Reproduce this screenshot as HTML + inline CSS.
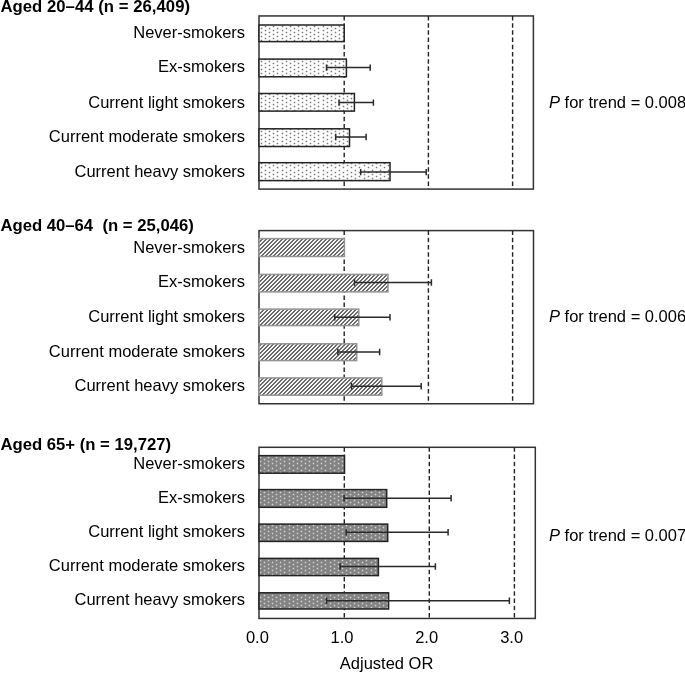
<!DOCTYPE html>
<html><head><meta charset="utf-8"><style>
html,body{margin:0;padding:0;background:#fff;}
svg{display:block;filter:grayscale(1);}
text{font-family:"Liberation Sans",sans-serif;font-size:16.5px;fill:#000;}
.t{font-weight:bold;font-size:16.7px;}
</style></head><body>
<svg width="685" height="673" viewBox="0 0 685 673">
<rect width="685" height="673" fill="#fff"/>
<defs>
<pattern id="hatch" patternUnits="userSpaceOnUse" x="0" y="0" width="4" height="4">
<rect width="4" height="4" fill="#f4f4f4"/>
<path d="M0 0h2v1h-2zM3 1h1v1h-1zM0 1h1v1h-1zM2 2h2v1h-2zM1 3h2v1h-2z" fill="#6a6a6a"/>
</pattern>
</defs>
<rect x="259.0" y="15.95" width="274.40" height="173.15" fill="#fff" stroke="#333" stroke-width="1.5"/>
<line x1="344.2" y1="15.95" x2="344.2" y2="189.1" stroke="#222" stroke-width="1.4" stroke-dasharray="4.5 2.7"/>
<line x1="428.4" y1="15.95" x2="428.4" y2="189.1" stroke="#222" stroke-width="1.4" stroke-dasharray="4.5 2.7"/>
<line x1="512.6" y1="15.95" x2="512.6" y2="189.1" stroke="#222" stroke-width="1.4" stroke-dasharray="4.5 2.7"/>
<rect x="259.0" y="25.00" width="85.20" height="16.60" fill="#fff"/>
<path d="M260.75 27.75h1.5v1.5h-1.5zM260.75 31.75h1.5v1.5h-1.5zM260.75 35.75h1.5v1.5h-1.5zM260.75 39.75h1.5v1.5h-1.5zM264.75 25.75h1.5v1.5h-1.5zM264.75 29.75h1.5v1.5h-1.5zM264.75 33.75h1.5v1.5h-1.5zM264.75 37.75h1.5v1.5h-1.5zM268.75 27.75h1.5v1.5h-1.5zM268.75 31.75h1.5v1.5h-1.5zM268.75 35.75h1.5v1.5h-1.5zM268.75 39.75h1.5v1.5h-1.5zM272.75 25.75h1.5v1.5h-1.5zM272.75 29.75h1.5v1.5h-1.5zM272.75 33.75h1.5v1.5h-1.5zM272.75 37.75h1.5v1.5h-1.5zM276.75 27.75h1.5v1.5h-1.5zM276.75 31.75h1.5v1.5h-1.5zM276.75 35.75h1.5v1.5h-1.5zM276.75 39.75h1.5v1.5h-1.5zM281.75 25.75h1.5v1.5h-1.5zM281.75 29.75h1.5v1.5h-1.5zM281.75 33.75h1.5v1.5h-1.5zM281.75 37.75h1.5v1.5h-1.5zM285.75 27.75h1.5v1.5h-1.5zM285.75 31.75h1.5v1.5h-1.5zM285.75 35.75h1.5v1.5h-1.5zM285.75 39.75h1.5v1.5h-1.5zM289.75 25.75h1.5v1.5h-1.5zM289.75 29.75h1.5v1.5h-1.5zM289.75 33.75h1.5v1.5h-1.5zM289.75 37.75h1.5v1.5h-1.5zM293.75 27.75h1.5v1.5h-1.5zM293.75 31.75h1.5v1.5h-1.5zM293.75 35.75h1.5v1.5h-1.5zM293.75 39.75h1.5v1.5h-1.5zM297.75 25.75h1.5v1.5h-1.5zM297.75 29.75h1.5v1.5h-1.5zM297.75 33.75h1.5v1.5h-1.5zM297.75 37.75h1.5v1.5h-1.5zM301.75 27.75h1.5v1.5h-1.5zM301.75 31.75h1.5v1.5h-1.5zM301.75 35.75h1.5v1.5h-1.5zM301.75 39.75h1.5v1.5h-1.5zM305.75 25.75h1.5v1.5h-1.5zM305.75 29.75h1.5v1.5h-1.5zM305.75 33.75h1.5v1.5h-1.5zM305.75 37.75h1.5v1.5h-1.5zM309.75 27.75h1.5v1.5h-1.5zM309.75 31.75h1.5v1.5h-1.5zM309.75 35.75h1.5v1.5h-1.5zM309.75 39.75h1.5v1.5h-1.5zM313.75 25.75h1.5v1.5h-1.5zM313.75 29.75h1.5v1.5h-1.5zM313.75 33.75h1.5v1.5h-1.5zM313.75 37.75h1.5v1.5h-1.5zM317.75 27.75h1.5v1.5h-1.5zM317.75 31.75h1.5v1.5h-1.5zM317.75 35.75h1.5v1.5h-1.5zM317.75 39.75h1.5v1.5h-1.5zM322.75 25.75h1.5v1.5h-1.5zM322.75 29.75h1.5v1.5h-1.5zM322.75 33.75h1.5v1.5h-1.5zM322.75 37.75h1.5v1.5h-1.5zM326.75 27.75h1.5v1.5h-1.5zM326.75 31.75h1.5v1.5h-1.5zM326.75 35.75h1.5v1.5h-1.5zM326.75 39.75h1.5v1.5h-1.5zM330.75 25.75h1.5v1.5h-1.5zM330.75 29.75h1.5v1.5h-1.5zM330.75 33.75h1.5v1.5h-1.5zM330.75 37.75h1.5v1.5h-1.5zM334.75 27.75h1.5v1.5h-1.5zM334.75 31.75h1.5v1.5h-1.5zM334.75 35.75h1.5v1.5h-1.5zM334.75 39.75h1.5v1.5h-1.5zM338.75 25.75h1.5v1.5h-1.5zM338.75 29.75h1.5v1.5h-1.5zM338.75 33.75h1.5v1.5h-1.5zM338.75 37.75h1.5v1.5h-1.5zM342.75 27.75h1.5v1.5h-1.5zM342.75 31.75h1.5v1.5h-1.5zM342.75 35.75h1.5v1.5h-1.5zM342.75 39.75h1.5v1.5h-1.5z" fill="#7a7a7a"/>
<rect x="259.0" y="25.00" width="85.20" height="16.60" fill="none" stroke="#222" stroke-width="1.5"/>
<rect x="259.0" y="59.10" width="87.40" height="17.70" fill="#fff"/>
<path d="M260.75 60.75h1.5v1.5h-1.5zM260.75 64.75h1.5v1.5h-1.5zM260.75 68.75h1.5v1.5h-1.5zM260.75 72.75h1.5v1.5h-1.5zM264.75 58.75h1.5v1.5h-1.5zM264.75 62.75h1.5v1.5h-1.5zM264.75 66.75h1.5v1.5h-1.5zM264.75 70.75h1.5v1.5h-1.5zM264.75 74.75h1.5v1.5h-1.5zM268.75 60.75h1.5v1.5h-1.5zM268.75 64.75h1.5v1.5h-1.5zM268.75 68.75h1.5v1.5h-1.5zM268.75 72.75h1.5v1.5h-1.5zM272.75 58.75h1.5v1.5h-1.5zM272.75 62.75h1.5v1.5h-1.5zM272.75 66.75h1.5v1.5h-1.5zM272.75 70.75h1.5v1.5h-1.5zM272.75 74.75h1.5v1.5h-1.5zM276.75 60.75h1.5v1.5h-1.5zM276.75 64.75h1.5v1.5h-1.5zM276.75 68.75h1.5v1.5h-1.5zM276.75 72.75h1.5v1.5h-1.5zM281.75 58.75h1.5v1.5h-1.5zM281.75 62.75h1.5v1.5h-1.5zM281.75 66.75h1.5v1.5h-1.5zM281.75 70.75h1.5v1.5h-1.5zM281.75 74.75h1.5v1.5h-1.5zM285.75 60.75h1.5v1.5h-1.5zM285.75 64.75h1.5v1.5h-1.5zM285.75 68.75h1.5v1.5h-1.5zM285.75 72.75h1.5v1.5h-1.5zM289.75 58.75h1.5v1.5h-1.5zM289.75 62.75h1.5v1.5h-1.5zM289.75 66.75h1.5v1.5h-1.5zM289.75 70.75h1.5v1.5h-1.5zM289.75 74.75h1.5v1.5h-1.5zM293.75 60.75h1.5v1.5h-1.5zM293.75 64.75h1.5v1.5h-1.5zM293.75 68.75h1.5v1.5h-1.5zM293.75 72.75h1.5v1.5h-1.5zM297.75 58.75h1.5v1.5h-1.5zM297.75 62.75h1.5v1.5h-1.5zM297.75 66.75h1.5v1.5h-1.5zM297.75 70.75h1.5v1.5h-1.5zM297.75 74.75h1.5v1.5h-1.5zM301.75 60.75h1.5v1.5h-1.5zM301.75 64.75h1.5v1.5h-1.5zM301.75 68.75h1.5v1.5h-1.5zM301.75 72.75h1.5v1.5h-1.5zM305.75 58.75h1.5v1.5h-1.5zM305.75 62.75h1.5v1.5h-1.5zM305.75 66.75h1.5v1.5h-1.5zM305.75 70.75h1.5v1.5h-1.5zM305.75 74.75h1.5v1.5h-1.5zM309.75 60.75h1.5v1.5h-1.5zM309.75 64.75h1.5v1.5h-1.5zM309.75 68.75h1.5v1.5h-1.5zM309.75 72.75h1.5v1.5h-1.5zM313.75 58.75h1.5v1.5h-1.5zM313.75 62.75h1.5v1.5h-1.5zM313.75 66.75h1.5v1.5h-1.5zM313.75 70.75h1.5v1.5h-1.5zM313.75 74.75h1.5v1.5h-1.5zM317.75 60.75h1.5v1.5h-1.5zM317.75 64.75h1.5v1.5h-1.5zM317.75 68.75h1.5v1.5h-1.5zM317.75 72.75h1.5v1.5h-1.5zM322.75 58.75h1.5v1.5h-1.5zM322.75 62.75h1.5v1.5h-1.5zM322.75 66.75h1.5v1.5h-1.5zM322.75 70.75h1.5v1.5h-1.5zM322.75 74.75h1.5v1.5h-1.5zM326.75 60.75h1.5v1.5h-1.5zM326.75 64.75h1.5v1.5h-1.5zM326.75 68.75h1.5v1.5h-1.5zM326.75 72.75h1.5v1.5h-1.5zM330.75 58.75h1.5v1.5h-1.5zM330.75 62.75h1.5v1.5h-1.5zM330.75 66.75h1.5v1.5h-1.5zM330.75 70.75h1.5v1.5h-1.5zM330.75 74.75h1.5v1.5h-1.5zM334.75 60.75h1.5v1.5h-1.5zM334.75 64.75h1.5v1.5h-1.5zM334.75 68.75h1.5v1.5h-1.5zM334.75 72.75h1.5v1.5h-1.5zM338.75 58.75h1.5v1.5h-1.5zM338.75 62.75h1.5v1.5h-1.5zM338.75 66.75h1.5v1.5h-1.5zM338.75 70.75h1.5v1.5h-1.5zM338.75 74.75h1.5v1.5h-1.5zM342.75 60.75h1.5v1.5h-1.5zM342.75 64.75h1.5v1.5h-1.5zM342.75 68.75h1.5v1.5h-1.5zM342.75 72.75h1.5v1.5h-1.5z" fill="#7a7a7a"/>
<rect x="259.0" y="59.10" width="87.40" height="17.70" fill="none" stroke="#222" stroke-width="1.5"/>
<path d="M326.5 67.60H370.2M326.5 64.40V70.80M370.2 64.40V70.80" stroke="#2a2a2a" stroke-width="1.5" fill="none"/>
<rect x="259.0" y="93.50" width="95.40" height="17.60" fill="#fff"/>
<path d="M260.75 93.75h1.5v1.5h-1.5zM260.75 97.75h1.5v1.5h-1.5zM260.75 101.75h1.5v1.5h-1.5zM260.75 105.75h1.5v1.5h-1.5zM260.75 109.75h1.5v1.5h-1.5zM264.75 95.75h1.5v1.5h-1.5zM264.75 99.75h1.5v1.5h-1.5zM264.75 103.75h1.5v1.5h-1.5zM264.75 107.75h1.5v1.5h-1.5zM268.75 93.75h1.5v1.5h-1.5zM268.75 97.75h1.5v1.5h-1.5zM268.75 101.75h1.5v1.5h-1.5zM268.75 105.75h1.5v1.5h-1.5zM268.75 109.75h1.5v1.5h-1.5zM272.75 95.75h1.5v1.5h-1.5zM272.75 99.75h1.5v1.5h-1.5zM272.75 103.75h1.5v1.5h-1.5zM272.75 107.75h1.5v1.5h-1.5zM276.75 93.75h1.5v1.5h-1.5zM276.75 97.75h1.5v1.5h-1.5zM276.75 101.75h1.5v1.5h-1.5zM276.75 105.75h1.5v1.5h-1.5zM276.75 109.75h1.5v1.5h-1.5zM281.75 95.75h1.5v1.5h-1.5zM281.75 99.75h1.5v1.5h-1.5zM281.75 103.75h1.5v1.5h-1.5zM281.75 107.75h1.5v1.5h-1.5zM285.75 93.75h1.5v1.5h-1.5zM285.75 97.75h1.5v1.5h-1.5zM285.75 101.75h1.5v1.5h-1.5zM285.75 105.75h1.5v1.5h-1.5zM285.75 109.75h1.5v1.5h-1.5zM289.75 95.75h1.5v1.5h-1.5zM289.75 99.75h1.5v1.5h-1.5zM289.75 103.75h1.5v1.5h-1.5zM289.75 107.75h1.5v1.5h-1.5zM293.75 93.75h1.5v1.5h-1.5zM293.75 97.75h1.5v1.5h-1.5zM293.75 101.75h1.5v1.5h-1.5zM293.75 105.75h1.5v1.5h-1.5zM293.75 109.75h1.5v1.5h-1.5zM297.75 95.75h1.5v1.5h-1.5zM297.75 99.75h1.5v1.5h-1.5zM297.75 103.75h1.5v1.5h-1.5zM297.75 107.75h1.5v1.5h-1.5zM301.75 93.75h1.5v1.5h-1.5zM301.75 97.75h1.5v1.5h-1.5zM301.75 101.75h1.5v1.5h-1.5zM301.75 105.75h1.5v1.5h-1.5zM301.75 109.75h1.5v1.5h-1.5zM305.75 95.75h1.5v1.5h-1.5zM305.75 99.75h1.5v1.5h-1.5zM305.75 103.75h1.5v1.5h-1.5zM305.75 107.75h1.5v1.5h-1.5zM309.75 93.75h1.5v1.5h-1.5zM309.75 97.75h1.5v1.5h-1.5zM309.75 101.75h1.5v1.5h-1.5zM309.75 105.75h1.5v1.5h-1.5zM309.75 109.75h1.5v1.5h-1.5zM313.75 95.75h1.5v1.5h-1.5zM313.75 99.75h1.5v1.5h-1.5zM313.75 103.75h1.5v1.5h-1.5zM313.75 107.75h1.5v1.5h-1.5zM317.75 93.75h1.5v1.5h-1.5zM317.75 97.75h1.5v1.5h-1.5zM317.75 101.75h1.5v1.5h-1.5zM317.75 105.75h1.5v1.5h-1.5zM317.75 109.75h1.5v1.5h-1.5zM322.75 95.75h1.5v1.5h-1.5zM322.75 99.75h1.5v1.5h-1.5zM322.75 103.75h1.5v1.5h-1.5zM322.75 107.75h1.5v1.5h-1.5zM326.75 93.75h1.5v1.5h-1.5zM326.75 97.75h1.5v1.5h-1.5zM326.75 101.75h1.5v1.5h-1.5zM326.75 105.75h1.5v1.5h-1.5zM326.75 109.75h1.5v1.5h-1.5zM330.75 95.75h1.5v1.5h-1.5zM330.75 99.75h1.5v1.5h-1.5zM330.75 103.75h1.5v1.5h-1.5zM330.75 107.75h1.5v1.5h-1.5zM334.75 93.75h1.5v1.5h-1.5zM334.75 97.75h1.5v1.5h-1.5zM334.75 101.75h1.5v1.5h-1.5zM334.75 105.75h1.5v1.5h-1.5zM334.75 109.75h1.5v1.5h-1.5zM338.75 95.75h1.5v1.5h-1.5zM338.75 99.75h1.5v1.5h-1.5zM338.75 103.75h1.5v1.5h-1.5zM338.75 107.75h1.5v1.5h-1.5zM342.75 93.75h1.5v1.5h-1.5zM342.75 97.75h1.5v1.5h-1.5zM342.75 101.75h1.5v1.5h-1.5zM342.75 105.75h1.5v1.5h-1.5zM342.75 109.75h1.5v1.5h-1.5zM346.75 95.75h1.5v1.5h-1.5zM346.75 99.75h1.5v1.5h-1.5zM346.75 103.75h1.5v1.5h-1.5zM346.75 107.75h1.5v1.5h-1.5zM350.75 93.75h1.5v1.5h-1.5zM350.75 97.75h1.5v1.5h-1.5zM350.75 101.75h1.5v1.5h-1.5zM350.75 105.75h1.5v1.5h-1.5zM350.75 109.75h1.5v1.5h-1.5z" fill="#7a7a7a"/>
<rect x="259.0" y="93.50" width="95.40" height="17.60" fill="none" stroke="#222" stroke-width="1.5"/>
<path d="M339.0 102.60H373.4M339.0 99.40V105.80M373.4 99.40V105.80" stroke="#2a2a2a" stroke-width="1.5" fill="none"/>
<rect x="259.0" y="128.80" width="90.50" height="17.70" fill="#fff"/>
<path d="M260.75 130.75h1.5v1.5h-1.5zM260.75 134.75h1.5v1.5h-1.5zM260.75 138.75h1.5v1.5h-1.5zM260.75 142.75h1.5v1.5h-1.5zM264.75 128.75h1.5v1.5h-1.5zM264.75 132.75h1.5v1.5h-1.5zM264.75 136.75h1.5v1.5h-1.5zM264.75 140.75h1.5v1.5h-1.5zM264.75 144.75h1.5v1.5h-1.5zM268.75 130.75h1.5v1.5h-1.5zM268.75 134.75h1.5v1.5h-1.5zM268.75 138.75h1.5v1.5h-1.5zM268.75 142.75h1.5v1.5h-1.5zM272.75 128.75h1.5v1.5h-1.5zM272.75 132.75h1.5v1.5h-1.5zM272.75 136.75h1.5v1.5h-1.5zM272.75 140.75h1.5v1.5h-1.5zM272.75 144.75h1.5v1.5h-1.5zM276.75 130.75h1.5v1.5h-1.5zM276.75 134.75h1.5v1.5h-1.5zM276.75 138.75h1.5v1.5h-1.5zM276.75 142.75h1.5v1.5h-1.5zM281.75 128.75h1.5v1.5h-1.5zM281.75 132.75h1.5v1.5h-1.5zM281.75 136.75h1.5v1.5h-1.5zM281.75 140.75h1.5v1.5h-1.5zM281.75 144.75h1.5v1.5h-1.5zM285.75 130.75h1.5v1.5h-1.5zM285.75 134.75h1.5v1.5h-1.5zM285.75 138.75h1.5v1.5h-1.5zM285.75 142.75h1.5v1.5h-1.5zM289.75 128.75h1.5v1.5h-1.5zM289.75 132.75h1.5v1.5h-1.5zM289.75 136.75h1.5v1.5h-1.5zM289.75 140.75h1.5v1.5h-1.5zM289.75 144.75h1.5v1.5h-1.5zM293.75 130.75h1.5v1.5h-1.5zM293.75 134.75h1.5v1.5h-1.5zM293.75 138.75h1.5v1.5h-1.5zM293.75 142.75h1.5v1.5h-1.5zM297.75 128.75h1.5v1.5h-1.5zM297.75 132.75h1.5v1.5h-1.5zM297.75 136.75h1.5v1.5h-1.5zM297.75 140.75h1.5v1.5h-1.5zM297.75 144.75h1.5v1.5h-1.5zM301.75 130.75h1.5v1.5h-1.5zM301.75 134.75h1.5v1.5h-1.5zM301.75 138.75h1.5v1.5h-1.5zM301.75 142.75h1.5v1.5h-1.5zM305.75 128.75h1.5v1.5h-1.5zM305.75 132.75h1.5v1.5h-1.5zM305.75 136.75h1.5v1.5h-1.5zM305.75 140.75h1.5v1.5h-1.5zM305.75 144.75h1.5v1.5h-1.5zM309.75 130.75h1.5v1.5h-1.5zM309.75 134.75h1.5v1.5h-1.5zM309.75 138.75h1.5v1.5h-1.5zM309.75 142.75h1.5v1.5h-1.5zM313.75 128.75h1.5v1.5h-1.5zM313.75 132.75h1.5v1.5h-1.5zM313.75 136.75h1.5v1.5h-1.5zM313.75 140.75h1.5v1.5h-1.5zM313.75 144.75h1.5v1.5h-1.5zM317.75 130.75h1.5v1.5h-1.5zM317.75 134.75h1.5v1.5h-1.5zM317.75 138.75h1.5v1.5h-1.5zM317.75 142.75h1.5v1.5h-1.5zM322.75 128.75h1.5v1.5h-1.5zM322.75 132.75h1.5v1.5h-1.5zM322.75 136.75h1.5v1.5h-1.5zM322.75 140.75h1.5v1.5h-1.5zM322.75 144.75h1.5v1.5h-1.5zM326.75 130.75h1.5v1.5h-1.5zM326.75 134.75h1.5v1.5h-1.5zM326.75 138.75h1.5v1.5h-1.5zM326.75 142.75h1.5v1.5h-1.5zM330.75 128.75h1.5v1.5h-1.5zM330.75 132.75h1.5v1.5h-1.5zM330.75 136.75h1.5v1.5h-1.5zM330.75 140.75h1.5v1.5h-1.5zM330.75 144.75h1.5v1.5h-1.5zM334.75 130.75h1.5v1.5h-1.5zM334.75 134.75h1.5v1.5h-1.5zM334.75 138.75h1.5v1.5h-1.5zM334.75 142.75h1.5v1.5h-1.5zM338.75 128.75h1.5v1.5h-1.5zM338.75 132.75h1.5v1.5h-1.5zM338.75 136.75h1.5v1.5h-1.5zM338.75 140.75h1.5v1.5h-1.5zM338.75 144.75h1.5v1.5h-1.5zM342.75 130.75h1.5v1.5h-1.5zM342.75 134.75h1.5v1.5h-1.5zM342.75 138.75h1.5v1.5h-1.5zM342.75 142.75h1.5v1.5h-1.5zM346.75 128.75h1.5v1.5h-1.5zM346.75 132.75h1.5v1.5h-1.5zM346.75 136.75h1.5v1.5h-1.5zM346.75 140.75h1.5v1.5h-1.5zM346.75 144.75h1.5v1.5h-1.5z" fill="#7a7a7a"/>
<rect x="259.0" y="128.80" width="90.50" height="17.70" fill="none" stroke="#222" stroke-width="1.5"/>
<path d="M335.7 137.00H366.1M335.7 133.80V140.20M366.1 133.80V140.20" stroke="#2a2a2a" stroke-width="1.5" fill="none"/>
<rect x="259.0" y="162.70" width="131.00" height="17.90" fill="#fff"/>
<path d="M260.75 162.75h1.5v1.5h-1.5zM260.75 166.75h1.5v1.5h-1.5zM260.75 171.75h1.5v1.5h-1.5zM260.75 175.75h1.5v1.5h-1.5zM260.75 179.75h1.5v1.5h-1.5zM264.75 164.75h1.5v1.5h-1.5zM264.75 169.75h1.5v1.5h-1.5zM264.75 173.75h1.5v1.5h-1.5zM264.75 177.75h1.5v1.5h-1.5zM268.75 162.75h1.5v1.5h-1.5zM268.75 166.75h1.5v1.5h-1.5zM268.75 171.75h1.5v1.5h-1.5zM268.75 175.75h1.5v1.5h-1.5zM268.75 179.75h1.5v1.5h-1.5zM272.75 164.75h1.5v1.5h-1.5zM272.75 169.75h1.5v1.5h-1.5zM272.75 173.75h1.5v1.5h-1.5zM272.75 177.75h1.5v1.5h-1.5zM276.75 162.75h1.5v1.5h-1.5zM276.75 166.75h1.5v1.5h-1.5zM276.75 171.75h1.5v1.5h-1.5zM276.75 175.75h1.5v1.5h-1.5zM276.75 179.75h1.5v1.5h-1.5zM281.75 164.75h1.5v1.5h-1.5zM281.75 169.75h1.5v1.5h-1.5zM281.75 173.75h1.5v1.5h-1.5zM281.75 177.75h1.5v1.5h-1.5zM285.75 162.75h1.5v1.5h-1.5zM285.75 166.75h1.5v1.5h-1.5zM285.75 171.75h1.5v1.5h-1.5zM285.75 175.75h1.5v1.5h-1.5zM285.75 179.75h1.5v1.5h-1.5zM289.75 164.75h1.5v1.5h-1.5zM289.75 169.75h1.5v1.5h-1.5zM289.75 173.75h1.5v1.5h-1.5zM289.75 177.75h1.5v1.5h-1.5zM293.75 162.75h1.5v1.5h-1.5zM293.75 166.75h1.5v1.5h-1.5zM293.75 171.75h1.5v1.5h-1.5zM293.75 175.75h1.5v1.5h-1.5zM293.75 179.75h1.5v1.5h-1.5zM297.75 164.75h1.5v1.5h-1.5zM297.75 169.75h1.5v1.5h-1.5zM297.75 173.75h1.5v1.5h-1.5zM297.75 177.75h1.5v1.5h-1.5zM301.75 162.75h1.5v1.5h-1.5zM301.75 166.75h1.5v1.5h-1.5zM301.75 171.75h1.5v1.5h-1.5zM301.75 175.75h1.5v1.5h-1.5zM301.75 179.75h1.5v1.5h-1.5zM305.75 164.75h1.5v1.5h-1.5zM305.75 169.75h1.5v1.5h-1.5zM305.75 173.75h1.5v1.5h-1.5zM305.75 177.75h1.5v1.5h-1.5zM309.75 162.75h1.5v1.5h-1.5zM309.75 166.75h1.5v1.5h-1.5zM309.75 171.75h1.5v1.5h-1.5zM309.75 175.75h1.5v1.5h-1.5zM309.75 179.75h1.5v1.5h-1.5zM313.75 164.75h1.5v1.5h-1.5zM313.75 169.75h1.5v1.5h-1.5zM313.75 173.75h1.5v1.5h-1.5zM313.75 177.75h1.5v1.5h-1.5zM317.75 162.75h1.5v1.5h-1.5zM317.75 166.75h1.5v1.5h-1.5zM317.75 171.75h1.5v1.5h-1.5zM317.75 175.75h1.5v1.5h-1.5zM317.75 179.75h1.5v1.5h-1.5zM322.75 164.75h1.5v1.5h-1.5zM322.75 169.75h1.5v1.5h-1.5zM322.75 173.75h1.5v1.5h-1.5zM322.75 177.75h1.5v1.5h-1.5zM326.75 162.75h1.5v1.5h-1.5zM326.75 166.75h1.5v1.5h-1.5zM326.75 171.75h1.5v1.5h-1.5zM326.75 175.75h1.5v1.5h-1.5zM326.75 179.75h1.5v1.5h-1.5zM330.75 164.75h1.5v1.5h-1.5zM330.75 169.75h1.5v1.5h-1.5zM330.75 173.75h1.5v1.5h-1.5zM330.75 177.75h1.5v1.5h-1.5zM334.75 162.75h1.5v1.5h-1.5zM334.75 166.75h1.5v1.5h-1.5zM334.75 171.75h1.5v1.5h-1.5zM334.75 175.75h1.5v1.5h-1.5zM334.75 179.75h1.5v1.5h-1.5zM338.75 164.75h1.5v1.5h-1.5zM338.75 169.75h1.5v1.5h-1.5zM338.75 173.75h1.5v1.5h-1.5zM338.75 177.75h1.5v1.5h-1.5zM342.75 162.75h1.5v1.5h-1.5zM342.75 166.75h1.5v1.5h-1.5zM342.75 171.75h1.5v1.5h-1.5zM342.75 175.75h1.5v1.5h-1.5zM342.75 179.75h1.5v1.5h-1.5zM346.75 164.75h1.5v1.5h-1.5zM346.75 169.75h1.5v1.5h-1.5zM346.75 173.75h1.5v1.5h-1.5zM346.75 177.75h1.5v1.5h-1.5zM350.75 162.75h1.5v1.5h-1.5zM350.75 166.75h1.5v1.5h-1.5zM350.75 171.75h1.5v1.5h-1.5zM350.75 175.75h1.5v1.5h-1.5zM350.75 179.75h1.5v1.5h-1.5zM354.75 164.75h1.5v1.5h-1.5zM354.75 169.75h1.5v1.5h-1.5zM354.75 173.75h1.5v1.5h-1.5zM354.75 177.75h1.5v1.5h-1.5zM358.75 162.75h1.5v1.5h-1.5zM358.75 166.75h1.5v1.5h-1.5zM358.75 171.75h1.5v1.5h-1.5zM358.75 175.75h1.5v1.5h-1.5zM358.75 179.75h1.5v1.5h-1.5zM363.75 164.75h1.5v1.5h-1.5zM363.75 169.75h1.5v1.5h-1.5zM363.75 173.75h1.5v1.5h-1.5zM363.75 177.75h1.5v1.5h-1.5zM367.75 162.75h1.5v1.5h-1.5zM367.75 166.75h1.5v1.5h-1.5zM367.75 171.75h1.5v1.5h-1.5zM367.75 175.75h1.5v1.5h-1.5zM367.75 179.75h1.5v1.5h-1.5zM371.75 164.75h1.5v1.5h-1.5zM371.75 169.75h1.5v1.5h-1.5zM371.75 173.75h1.5v1.5h-1.5zM371.75 177.75h1.5v1.5h-1.5zM375.75 162.75h1.5v1.5h-1.5zM375.75 166.75h1.5v1.5h-1.5zM375.75 171.75h1.5v1.5h-1.5zM375.75 175.75h1.5v1.5h-1.5zM375.75 179.75h1.5v1.5h-1.5zM379.75 164.75h1.5v1.5h-1.5zM379.75 169.75h1.5v1.5h-1.5zM379.75 173.75h1.5v1.5h-1.5zM379.75 177.75h1.5v1.5h-1.5zM383.75 162.75h1.5v1.5h-1.5zM383.75 166.75h1.5v1.5h-1.5zM383.75 171.75h1.5v1.5h-1.5zM383.75 175.75h1.5v1.5h-1.5zM383.75 179.75h1.5v1.5h-1.5zM387.75 164.75h1.5v1.5h-1.5zM387.75 169.75h1.5v1.5h-1.5zM387.75 173.75h1.5v1.5h-1.5zM387.75 177.75h1.5v1.5h-1.5z" fill="#7a7a7a"/>
<rect x="259.0" y="162.70" width="131.00" height="17.90" fill="none" stroke="#222" stroke-width="1.5"/>
<path d="M360.7 172.10H426.2M360.7 168.90V175.30M426.2 168.90V175.30" stroke="#2a2a2a" stroke-width="1.5" fill="none"/>
<text x="245.1" y="38" text-anchor="end">Never-smokers</text>
<text x="245.1" y="72" text-anchor="end">Ex-smokers</text>
<text x="245.1" y="108" text-anchor="end">Current light smokers</text>
<text x="245.1" y="142" text-anchor="end">Current moderate smokers</text>
<text x="245.1" y="177" text-anchor="end">Current heavy smokers</text>
<rect x="259.0" y="230.6" width="274.50" height="173.15" fill="#fff" stroke="#333" stroke-width="1.5"/>
<line x1="344.2" y1="230.6" x2="344.2" y2="403.75" stroke="#222" stroke-width="1.4" stroke-dasharray="4.5 2.7"/>
<line x1="428.4" y1="230.6" x2="428.4" y2="403.75" stroke="#222" stroke-width="1.4" stroke-dasharray="4.5 2.7"/>
<line x1="512.6" y1="230.6" x2="512.6" y2="403.75" stroke="#222" stroke-width="1.4" stroke-dasharray="4.5 2.7"/>
<rect x="259.0" y="238.60" width="85.40" height="17.90" fill="#fff"/>
<rect x="259.0" y="238.60" width="85.40" height="17.90" fill="url(#hatch)" stroke="#959595" stroke-width="1.5"/>
<rect x="259.0" y="274.40" width="129.00" height="17.50" fill="#fff"/>
<rect x="259.0" y="274.40" width="129.00" height="17.50" fill="url(#hatch)" stroke="#959595" stroke-width="1.5"/>
<path d="M354.5 282.50H431.4M354.5 279.30V285.70M431.4 279.30V285.70" stroke="#2a2a2a" stroke-width="1.5" fill="none"/>
<rect x="259.0" y="309.10" width="99.80" height="16.50" fill="#fff"/>
<rect x="259.0" y="309.10" width="99.80" height="16.50" fill="url(#hatch)" stroke="#959595" stroke-width="1.5"/>
<path d="M334.7 317.30H390.0M334.7 314.10V320.50M390.0 314.10V320.50" stroke="#2a2a2a" stroke-width="1.5" fill="none"/>
<rect x="259.0" y="343.80" width="97.70" height="16.80" fill="#fff"/>
<rect x="259.0" y="343.80" width="97.70" height="16.80" fill="url(#hatch)" stroke="#959595" stroke-width="1.5"/>
<path d="M337.9 352.00H379.6M337.9 348.80V355.20M379.6 348.80V355.20" stroke="#2a2a2a" stroke-width="1.5" fill="none"/>
<rect x="259.0" y="377.90" width="122.80" height="17.30" fill="#fff"/>
<rect x="259.0" y="377.90" width="122.80" height="17.30" fill="url(#hatch)" stroke="#959595" stroke-width="1.5"/>
<path d="M351.5 386.20H421.2M351.5 383.00V389.40M421.2 383.00V389.40" stroke="#2a2a2a" stroke-width="1.5" fill="none"/>
<text x="245.1" y="253" text-anchor="end">Never-smokers</text>
<text x="245.1" y="287" text-anchor="end">Ex-smokers</text>
<text x="245.1" y="322" text-anchor="end">Current light smokers</text>
<text x="245.1" y="357" text-anchor="end">Current moderate smokers</text>
<text x="245.1" y="391" text-anchor="end">Current heavy smokers</text>
<rect x="259.0" y="447.3" width="276.30" height="171.15" fill="#fff" stroke="#333" stroke-width="1.5"/>
<line x1="344.3" y1="447.3" x2="344.3" y2="618.45" stroke="#222" stroke-width="1.4" stroke-dasharray="4.5 2.7"/>
<line x1="429.3" y1="447.3" x2="429.3" y2="618.45" stroke="#222" stroke-width="1.4" stroke-dasharray="4.5 2.7"/>
<line x1="514.4" y1="447.3" x2="514.4" y2="618.45" stroke="#222" stroke-width="1.4" stroke-dasharray="4.5 2.7"/>
<rect x="259.0" y="455.65" width="85.50" height="17.55" fill="#838383"/>
<path d="M259.75 456.75h1.5v1.5h-1.5zM259.75 460.75h1.5v1.5h-1.5zM259.75 464.75h1.5v1.5h-1.5zM259.75 469.75h1.5v1.5h-1.5zM263.75 458.75h1.5v1.5h-1.5zM263.75 462.75h1.5v1.5h-1.5zM263.75 467.75h1.5v1.5h-1.5zM263.75 471.75h1.5v1.5h-1.5zM267.75 456.75h1.5v1.5h-1.5zM267.75 460.75h1.5v1.5h-1.5zM267.75 464.75h1.5v1.5h-1.5zM267.75 469.75h1.5v1.5h-1.5zM271.75 458.75h1.5v1.5h-1.5zM271.75 462.75h1.5v1.5h-1.5zM271.75 467.75h1.5v1.5h-1.5zM271.75 471.75h1.5v1.5h-1.5zM275.75 456.75h1.5v1.5h-1.5zM275.75 460.75h1.5v1.5h-1.5zM275.75 464.75h1.5v1.5h-1.5zM275.75 469.75h1.5v1.5h-1.5zM279.75 458.75h1.5v1.5h-1.5zM279.75 462.75h1.5v1.5h-1.5zM279.75 467.75h1.5v1.5h-1.5zM279.75 471.75h1.5v1.5h-1.5zM283.75 456.75h1.5v1.5h-1.5zM283.75 460.75h1.5v1.5h-1.5zM283.75 464.75h1.5v1.5h-1.5zM283.75 469.75h1.5v1.5h-1.5zM288.75 458.75h1.5v1.5h-1.5zM288.75 462.75h1.5v1.5h-1.5zM288.75 467.75h1.5v1.5h-1.5zM288.75 471.75h1.5v1.5h-1.5zM292.75 456.75h1.5v1.5h-1.5zM292.75 460.75h1.5v1.5h-1.5zM292.75 464.75h1.5v1.5h-1.5zM292.75 469.75h1.5v1.5h-1.5zM296.75 458.75h1.5v1.5h-1.5zM296.75 462.75h1.5v1.5h-1.5zM296.75 467.75h1.5v1.5h-1.5zM296.75 471.75h1.5v1.5h-1.5zM300.75 456.75h1.5v1.5h-1.5zM300.75 460.75h1.5v1.5h-1.5zM300.75 464.75h1.5v1.5h-1.5zM300.75 469.75h1.5v1.5h-1.5zM304.75 458.75h1.5v1.5h-1.5zM304.75 462.75h1.5v1.5h-1.5zM304.75 467.75h1.5v1.5h-1.5zM304.75 471.75h1.5v1.5h-1.5zM308.75 456.75h1.5v1.5h-1.5zM308.75 460.75h1.5v1.5h-1.5zM308.75 464.75h1.5v1.5h-1.5zM308.75 469.75h1.5v1.5h-1.5zM312.75 458.75h1.5v1.5h-1.5zM312.75 462.75h1.5v1.5h-1.5zM312.75 467.75h1.5v1.5h-1.5zM312.75 471.75h1.5v1.5h-1.5zM316.75 456.75h1.5v1.5h-1.5zM316.75 460.75h1.5v1.5h-1.5zM316.75 464.75h1.5v1.5h-1.5zM316.75 469.75h1.5v1.5h-1.5zM320.75 458.75h1.5v1.5h-1.5zM320.75 462.75h1.5v1.5h-1.5zM320.75 467.75h1.5v1.5h-1.5zM320.75 471.75h1.5v1.5h-1.5zM324.75 456.75h1.5v1.5h-1.5zM324.75 460.75h1.5v1.5h-1.5zM324.75 464.75h1.5v1.5h-1.5zM324.75 469.75h1.5v1.5h-1.5zM329.75 458.75h1.5v1.5h-1.5zM329.75 462.75h1.5v1.5h-1.5zM329.75 467.75h1.5v1.5h-1.5zM329.75 471.75h1.5v1.5h-1.5zM333.75 456.75h1.5v1.5h-1.5zM333.75 460.75h1.5v1.5h-1.5zM333.75 464.75h1.5v1.5h-1.5zM333.75 469.75h1.5v1.5h-1.5zM337.75 458.75h1.5v1.5h-1.5zM337.75 462.75h1.5v1.5h-1.5zM337.75 467.75h1.5v1.5h-1.5zM337.75 471.75h1.5v1.5h-1.5zM341.75 456.75h1.5v1.5h-1.5zM341.75 460.75h1.5v1.5h-1.5zM341.75 464.75h1.5v1.5h-1.5zM341.75 469.75h1.5v1.5h-1.5z" fill="#d4d4d4"/>
<rect x="259.0" y="455.65" width="85.50" height="17.55" fill="none" stroke="#222" stroke-width="1.5"/>
<rect x="259.0" y="489.60" width="127.70" height="17.70" fill="#838383"/>
<path d="M259.75 489.75h1.5v1.5h-1.5zM259.75 493.75h1.5v1.5h-1.5zM259.75 497.75h1.5v1.5h-1.5zM259.75 501.75h1.5v1.5h-1.5zM263.75 491.75h1.5v1.5h-1.5zM263.75 495.75h1.5v1.5h-1.5zM263.75 499.75h1.5v1.5h-1.5zM263.75 503.75h1.5v1.5h-1.5zM267.75 489.75h1.5v1.5h-1.5zM267.75 493.75h1.5v1.5h-1.5zM267.75 497.75h1.5v1.5h-1.5zM267.75 501.75h1.5v1.5h-1.5zM271.75 491.75h1.5v1.5h-1.5zM271.75 495.75h1.5v1.5h-1.5zM271.75 499.75h1.5v1.5h-1.5zM271.75 503.75h1.5v1.5h-1.5zM275.75 489.75h1.5v1.5h-1.5zM275.75 493.75h1.5v1.5h-1.5zM275.75 497.75h1.5v1.5h-1.5zM275.75 501.75h1.5v1.5h-1.5zM279.75 491.75h1.5v1.5h-1.5zM279.75 495.75h1.5v1.5h-1.5zM279.75 499.75h1.5v1.5h-1.5zM279.75 503.75h1.5v1.5h-1.5zM283.75 489.75h1.5v1.5h-1.5zM283.75 493.75h1.5v1.5h-1.5zM283.75 497.75h1.5v1.5h-1.5zM283.75 501.75h1.5v1.5h-1.5zM288.75 491.75h1.5v1.5h-1.5zM288.75 495.75h1.5v1.5h-1.5zM288.75 499.75h1.5v1.5h-1.5zM288.75 503.75h1.5v1.5h-1.5zM292.75 489.75h1.5v1.5h-1.5zM292.75 493.75h1.5v1.5h-1.5zM292.75 497.75h1.5v1.5h-1.5zM292.75 501.75h1.5v1.5h-1.5zM296.75 491.75h1.5v1.5h-1.5zM296.75 495.75h1.5v1.5h-1.5zM296.75 499.75h1.5v1.5h-1.5zM296.75 503.75h1.5v1.5h-1.5zM300.75 489.75h1.5v1.5h-1.5zM300.75 493.75h1.5v1.5h-1.5zM300.75 497.75h1.5v1.5h-1.5zM300.75 501.75h1.5v1.5h-1.5zM304.75 491.75h1.5v1.5h-1.5zM304.75 495.75h1.5v1.5h-1.5zM304.75 499.75h1.5v1.5h-1.5zM304.75 503.75h1.5v1.5h-1.5zM308.75 489.75h1.5v1.5h-1.5zM308.75 493.75h1.5v1.5h-1.5zM308.75 497.75h1.5v1.5h-1.5zM308.75 501.75h1.5v1.5h-1.5zM312.75 491.75h1.5v1.5h-1.5zM312.75 495.75h1.5v1.5h-1.5zM312.75 499.75h1.5v1.5h-1.5zM312.75 503.75h1.5v1.5h-1.5zM316.75 489.75h1.5v1.5h-1.5zM316.75 493.75h1.5v1.5h-1.5zM316.75 497.75h1.5v1.5h-1.5zM316.75 501.75h1.5v1.5h-1.5zM320.75 491.75h1.5v1.5h-1.5zM320.75 495.75h1.5v1.5h-1.5zM320.75 499.75h1.5v1.5h-1.5zM320.75 503.75h1.5v1.5h-1.5zM324.75 489.75h1.5v1.5h-1.5zM324.75 493.75h1.5v1.5h-1.5zM324.75 497.75h1.5v1.5h-1.5zM324.75 501.75h1.5v1.5h-1.5zM329.75 491.75h1.5v1.5h-1.5zM329.75 495.75h1.5v1.5h-1.5zM329.75 499.75h1.5v1.5h-1.5zM329.75 503.75h1.5v1.5h-1.5zM333.75 489.75h1.5v1.5h-1.5zM333.75 493.75h1.5v1.5h-1.5zM333.75 497.75h1.5v1.5h-1.5zM333.75 501.75h1.5v1.5h-1.5zM337.75 491.75h1.5v1.5h-1.5zM337.75 495.75h1.5v1.5h-1.5zM337.75 499.75h1.5v1.5h-1.5zM337.75 503.75h1.5v1.5h-1.5zM341.75 489.75h1.5v1.5h-1.5zM341.75 493.75h1.5v1.5h-1.5zM341.75 497.75h1.5v1.5h-1.5zM341.75 501.75h1.5v1.5h-1.5zM345.75 491.75h1.5v1.5h-1.5zM345.75 495.75h1.5v1.5h-1.5zM345.75 499.75h1.5v1.5h-1.5zM345.75 503.75h1.5v1.5h-1.5zM349.75 489.75h1.5v1.5h-1.5zM349.75 493.75h1.5v1.5h-1.5zM349.75 497.75h1.5v1.5h-1.5zM349.75 501.75h1.5v1.5h-1.5zM353.75 491.75h1.5v1.5h-1.5zM353.75 495.75h1.5v1.5h-1.5zM353.75 499.75h1.5v1.5h-1.5zM353.75 503.75h1.5v1.5h-1.5zM357.75 489.75h1.5v1.5h-1.5zM357.75 493.75h1.5v1.5h-1.5zM357.75 497.75h1.5v1.5h-1.5zM357.75 501.75h1.5v1.5h-1.5zM361.75 491.75h1.5v1.5h-1.5zM361.75 495.75h1.5v1.5h-1.5zM361.75 499.75h1.5v1.5h-1.5zM361.75 503.75h1.5v1.5h-1.5zM365.75 489.75h1.5v1.5h-1.5zM365.75 493.75h1.5v1.5h-1.5zM365.75 497.75h1.5v1.5h-1.5zM365.75 501.75h1.5v1.5h-1.5zM370.75 491.75h1.5v1.5h-1.5zM370.75 495.75h1.5v1.5h-1.5zM370.75 499.75h1.5v1.5h-1.5zM370.75 503.75h1.5v1.5h-1.5zM374.75 489.75h1.5v1.5h-1.5zM374.75 493.75h1.5v1.5h-1.5zM374.75 497.75h1.5v1.5h-1.5zM374.75 501.75h1.5v1.5h-1.5zM378.75 491.75h1.5v1.5h-1.5zM378.75 495.75h1.5v1.5h-1.5zM378.75 499.75h1.5v1.5h-1.5zM378.75 503.75h1.5v1.5h-1.5zM382.75 489.75h1.5v1.5h-1.5zM382.75 493.75h1.5v1.5h-1.5zM382.75 497.75h1.5v1.5h-1.5zM382.75 501.75h1.5v1.5h-1.5z" fill="#d4d4d4"/>
<rect x="259.0" y="489.60" width="127.70" height="17.70" fill="none" stroke="#222" stroke-width="1.5"/>
<path d="M344.05 498.30H451.1M344.05 495.10V501.50M451.1 495.10V501.50" stroke="#2a2a2a" stroke-width="1.5" fill="none"/>
<rect x="259.0" y="524.10" width="128.70" height="17.30" fill="#838383"/>
<path d="M259.75 526.75h1.5v1.5h-1.5zM259.75 530.75h1.5v1.5h-1.5zM259.75 534.75h1.5v1.5h-1.5zM259.75 538.75h1.5v1.5h-1.5zM263.75 524.75h1.5v1.5h-1.5zM263.75 528.75h1.5v1.5h-1.5zM263.75 532.75h1.5v1.5h-1.5zM263.75 536.75h1.5v1.5h-1.5zM267.75 526.75h1.5v1.5h-1.5zM267.75 530.75h1.5v1.5h-1.5zM267.75 534.75h1.5v1.5h-1.5zM267.75 538.75h1.5v1.5h-1.5zM271.75 524.75h1.5v1.5h-1.5zM271.75 528.75h1.5v1.5h-1.5zM271.75 532.75h1.5v1.5h-1.5zM271.75 536.75h1.5v1.5h-1.5zM275.75 526.75h1.5v1.5h-1.5zM275.75 530.75h1.5v1.5h-1.5zM275.75 534.75h1.5v1.5h-1.5zM275.75 538.75h1.5v1.5h-1.5zM279.75 524.75h1.5v1.5h-1.5zM279.75 528.75h1.5v1.5h-1.5zM279.75 532.75h1.5v1.5h-1.5zM279.75 536.75h1.5v1.5h-1.5zM283.75 526.75h1.5v1.5h-1.5zM283.75 530.75h1.5v1.5h-1.5zM283.75 534.75h1.5v1.5h-1.5zM283.75 538.75h1.5v1.5h-1.5zM288.75 524.75h1.5v1.5h-1.5zM288.75 528.75h1.5v1.5h-1.5zM288.75 532.75h1.5v1.5h-1.5zM288.75 536.75h1.5v1.5h-1.5zM292.75 526.75h1.5v1.5h-1.5zM292.75 530.75h1.5v1.5h-1.5zM292.75 534.75h1.5v1.5h-1.5zM292.75 538.75h1.5v1.5h-1.5zM296.75 524.75h1.5v1.5h-1.5zM296.75 528.75h1.5v1.5h-1.5zM296.75 532.75h1.5v1.5h-1.5zM296.75 536.75h1.5v1.5h-1.5zM300.75 526.75h1.5v1.5h-1.5zM300.75 530.75h1.5v1.5h-1.5zM300.75 534.75h1.5v1.5h-1.5zM300.75 538.75h1.5v1.5h-1.5zM304.75 524.75h1.5v1.5h-1.5zM304.75 528.75h1.5v1.5h-1.5zM304.75 532.75h1.5v1.5h-1.5zM304.75 536.75h1.5v1.5h-1.5zM308.75 526.75h1.5v1.5h-1.5zM308.75 530.75h1.5v1.5h-1.5zM308.75 534.75h1.5v1.5h-1.5zM308.75 538.75h1.5v1.5h-1.5zM312.75 524.75h1.5v1.5h-1.5zM312.75 528.75h1.5v1.5h-1.5zM312.75 532.75h1.5v1.5h-1.5zM312.75 536.75h1.5v1.5h-1.5zM316.75 526.75h1.5v1.5h-1.5zM316.75 530.75h1.5v1.5h-1.5zM316.75 534.75h1.5v1.5h-1.5zM316.75 538.75h1.5v1.5h-1.5zM320.75 524.75h1.5v1.5h-1.5zM320.75 528.75h1.5v1.5h-1.5zM320.75 532.75h1.5v1.5h-1.5zM320.75 536.75h1.5v1.5h-1.5zM324.75 526.75h1.5v1.5h-1.5zM324.75 530.75h1.5v1.5h-1.5zM324.75 534.75h1.5v1.5h-1.5zM324.75 538.75h1.5v1.5h-1.5zM329.75 524.75h1.5v1.5h-1.5zM329.75 528.75h1.5v1.5h-1.5zM329.75 532.75h1.5v1.5h-1.5zM329.75 536.75h1.5v1.5h-1.5zM333.75 526.75h1.5v1.5h-1.5zM333.75 530.75h1.5v1.5h-1.5zM333.75 534.75h1.5v1.5h-1.5zM333.75 538.75h1.5v1.5h-1.5zM337.75 524.75h1.5v1.5h-1.5zM337.75 528.75h1.5v1.5h-1.5zM337.75 532.75h1.5v1.5h-1.5zM337.75 536.75h1.5v1.5h-1.5zM341.75 526.75h1.5v1.5h-1.5zM341.75 530.75h1.5v1.5h-1.5zM341.75 534.75h1.5v1.5h-1.5zM341.75 538.75h1.5v1.5h-1.5zM345.75 524.75h1.5v1.5h-1.5zM345.75 528.75h1.5v1.5h-1.5zM345.75 532.75h1.5v1.5h-1.5zM345.75 536.75h1.5v1.5h-1.5zM349.75 526.75h1.5v1.5h-1.5zM349.75 530.75h1.5v1.5h-1.5zM349.75 534.75h1.5v1.5h-1.5zM349.75 538.75h1.5v1.5h-1.5zM353.75 524.75h1.5v1.5h-1.5zM353.75 528.75h1.5v1.5h-1.5zM353.75 532.75h1.5v1.5h-1.5zM353.75 536.75h1.5v1.5h-1.5zM357.75 526.75h1.5v1.5h-1.5zM357.75 530.75h1.5v1.5h-1.5zM357.75 534.75h1.5v1.5h-1.5zM357.75 538.75h1.5v1.5h-1.5zM361.75 524.75h1.5v1.5h-1.5zM361.75 528.75h1.5v1.5h-1.5zM361.75 532.75h1.5v1.5h-1.5zM361.75 536.75h1.5v1.5h-1.5zM365.75 526.75h1.5v1.5h-1.5zM365.75 530.75h1.5v1.5h-1.5zM365.75 534.75h1.5v1.5h-1.5zM365.75 538.75h1.5v1.5h-1.5zM370.75 524.75h1.5v1.5h-1.5zM370.75 528.75h1.5v1.5h-1.5zM370.75 532.75h1.5v1.5h-1.5zM370.75 536.75h1.5v1.5h-1.5zM374.75 526.75h1.5v1.5h-1.5zM374.75 530.75h1.5v1.5h-1.5zM374.75 534.75h1.5v1.5h-1.5zM374.75 538.75h1.5v1.5h-1.5zM378.75 524.75h1.5v1.5h-1.5zM378.75 528.75h1.5v1.5h-1.5zM378.75 532.75h1.5v1.5h-1.5zM378.75 536.75h1.5v1.5h-1.5zM382.75 526.75h1.5v1.5h-1.5zM382.75 530.75h1.5v1.5h-1.5zM382.75 534.75h1.5v1.5h-1.5zM382.75 538.75h1.5v1.5h-1.5z" fill="#d4d4d4"/>
<rect x="259.0" y="524.10" width="128.70" height="17.30" fill="none" stroke="#222" stroke-width="1.5"/>
<path d="M346.2 532.30H448.1M346.2 529.10V535.50M448.1 529.10V535.50" stroke="#2a2a2a" stroke-width="1.5" fill="none"/>
<rect x="259.0" y="558.40" width="119.40" height="17.20" fill="#838383"/>
<path d="M259.75 559.75h1.5v1.5h-1.5zM259.75 563.75h1.5v1.5h-1.5zM259.75 567.75h1.5v1.5h-1.5zM259.75 571.75h1.5v1.5h-1.5zM263.75 561.75h1.5v1.5h-1.5zM263.75 565.75h1.5v1.5h-1.5zM263.75 569.75h1.5v1.5h-1.5zM263.75 573.75h1.5v1.5h-1.5zM267.75 559.75h1.5v1.5h-1.5zM267.75 563.75h1.5v1.5h-1.5zM267.75 567.75h1.5v1.5h-1.5zM267.75 571.75h1.5v1.5h-1.5zM271.75 561.75h1.5v1.5h-1.5zM271.75 565.75h1.5v1.5h-1.5zM271.75 569.75h1.5v1.5h-1.5zM271.75 573.75h1.5v1.5h-1.5zM275.75 559.75h1.5v1.5h-1.5zM275.75 563.75h1.5v1.5h-1.5zM275.75 567.75h1.5v1.5h-1.5zM275.75 571.75h1.5v1.5h-1.5zM279.75 561.75h1.5v1.5h-1.5zM279.75 565.75h1.5v1.5h-1.5zM279.75 569.75h1.5v1.5h-1.5zM279.75 573.75h1.5v1.5h-1.5zM283.75 559.75h1.5v1.5h-1.5zM283.75 563.75h1.5v1.5h-1.5zM283.75 567.75h1.5v1.5h-1.5zM283.75 571.75h1.5v1.5h-1.5zM288.75 561.75h1.5v1.5h-1.5zM288.75 565.75h1.5v1.5h-1.5zM288.75 569.75h1.5v1.5h-1.5zM288.75 573.75h1.5v1.5h-1.5zM292.75 559.75h1.5v1.5h-1.5zM292.75 563.75h1.5v1.5h-1.5zM292.75 567.75h1.5v1.5h-1.5zM292.75 571.75h1.5v1.5h-1.5zM296.75 561.75h1.5v1.5h-1.5zM296.75 565.75h1.5v1.5h-1.5zM296.75 569.75h1.5v1.5h-1.5zM296.75 573.75h1.5v1.5h-1.5zM300.75 559.75h1.5v1.5h-1.5zM300.75 563.75h1.5v1.5h-1.5zM300.75 567.75h1.5v1.5h-1.5zM300.75 571.75h1.5v1.5h-1.5zM304.75 561.75h1.5v1.5h-1.5zM304.75 565.75h1.5v1.5h-1.5zM304.75 569.75h1.5v1.5h-1.5zM304.75 573.75h1.5v1.5h-1.5zM308.75 559.75h1.5v1.5h-1.5zM308.75 563.75h1.5v1.5h-1.5zM308.75 567.75h1.5v1.5h-1.5zM308.75 571.75h1.5v1.5h-1.5zM312.75 561.75h1.5v1.5h-1.5zM312.75 565.75h1.5v1.5h-1.5zM312.75 569.75h1.5v1.5h-1.5zM312.75 573.75h1.5v1.5h-1.5zM316.75 559.75h1.5v1.5h-1.5zM316.75 563.75h1.5v1.5h-1.5zM316.75 567.75h1.5v1.5h-1.5zM316.75 571.75h1.5v1.5h-1.5zM320.75 561.75h1.5v1.5h-1.5zM320.75 565.75h1.5v1.5h-1.5zM320.75 569.75h1.5v1.5h-1.5zM320.75 573.75h1.5v1.5h-1.5zM324.75 559.75h1.5v1.5h-1.5zM324.75 563.75h1.5v1.5h-1.5zM324.75 567.75h1.5v1.5h-1.5zM324.75 571.75h1.5v1.5h-1.5zM329.75 561.75h1.5v1.5h-1.5zM329.75 565.75h1.5v1.5h-1.5zM329.75 569.75h1.5v1.5h-1.5zM329.75 573.75h1.5v1.5h-1.5zM333.75 559.75h1.5v1.5h-1.5zM333.75 563.75h1.5v1.5h-1.5zM333.75 567.75h1.5v1.5h-1.5zM333.75 571.75h1.5v1.5h-1.5zM337.75 561.75h1.5v1.5h-1.5zM337.75 565.75h1.5v1.5h-1.5zM337.75 569.75h1.5v1.5h-1.5zM337.75 573.75h1.5v1.5h-1.5zM341.75 559.75h1.5v1.5h-1.5zM341.75 563.75h1.5v1.5h-1.5zM341.75 567.75h1.5v1.5h-1.5zM341.75 571.75h1.5v1.5h-1.5zM345.75 561.75h1.5v1.5h-1.5zM345.75 565.75h1.5v1.5h-1.5zM345.75 569.75h1.5v1.5h-1.5zM345.75 573.75h1.5v1.5h-1.5zM349.75 559.75h1.5v1.5h-1.5zM349.75 563.75h1.5v1.5h-1.5zM349.75 567.75h1.5v1.5h-1.5zM349.75 571.75h1.5v1.5h-1.5zM353.75 561.75h1.5v1.5h-1.5zM353.75 565.75h1.5v1.5h-1.5zM353.75 569.75h1.5v1.5h-1.5zM353.75 573.75h1.5v1.5h-1.5zM357.75 559.75h1.5v1.5h-1.5zM357.75 563.75h1.5v1.5h-1.5zM357.75 567.75h1.5v1.5h-1.5zM357.75 571.75h1.5v1.5h-1.5zM361.75 561.75h1.5v1.5h-1.5zM361.75 565.75h1.5v1.5h-1.5zM361.75 569.75h1.5v1.5h-1.5zM361.75 573.75h1.5v1.5h-1.5zM365.75 559.75h1.5v1.5h-1.5zM365.75 563.75h1.5v1.5h-1.5zM365.75 567.75h1.5v1.5h-1.5zM365.75 571.75h1.5v1.5h-1.5zM370.75 561.75h1.5v1.5h-1.5zM370.75 565.75h1.5v1.5h-1.5zM370.75 569.75h1.5v1.5h-1.5zM370.75 573.75h1.5v1.5h-1.5zM374.75 559.75h1.5v1.5h-1.5zM374.75 563.75h1.5v1.5h-1.5zM374.75 567.75h1.5v1.5h-1.5zM374.75 571.75h1.5v1.5h-1.5z" fill="#d4d4d4"/>
<rect x="259.0" y="558.40" width="119.40" height="17.20" fill="none" stroke="#222" stroke-width="1.5"/>
<path d="M340.1 566.50H435.4M340.1 563.30V569.70M435.4 563.30V569.70" stroke="#2a2a2a" stroke-width="1.5" fill="none"/>
<rect x="259.0" y="592.80" width="129.60" height="16.20" fill="#838383"/>
<path d="M259.75 596.75h1.5v1.5h-1.5zM259.75 600.75h1.5v1.5h-1.5zM259.75 604.75h1.5v1.5h-1.5zM263.75 594.75h1.5v1.5h-1.5zM263.75 598.75h1.5v1.5h-1.5zM263.75 602.75h1.5v1.5h-1.5zM263.75 606.75h1.5v1.5h-1.5zM267.75 596.75h1.5v1.5h-1.5zM267.75 600.75h1.5v1.5h-1.5zM267.75 604.75h1.5v1.5h-1.5zM271.75 594.75h1.5v1.5h-1.5zM271.75 598.75h1.5v1.5h-1.5zM271.75 602.75h1.5v1.5h-1.5zM271.75 606.75h1.5v1.5h-1.5zM275.75 596.75h1.5v1.5h-1.5zM275.75 600.75h1.5v1.5h-1.5zM275.75 604.75h1.5v1.5h-1.5zM279.75 594.75h1.5v1.5h-1.5zM279.75 598.75h1.5v1.5h-1.5zM279.75 602.75h1.5v1.5h-1.5zM279.75 606.75h1.5v1.5h-1.5zM283.75 596.75h1.5v1.5h-1.5zM283.75 600.75h1.5v1.5h-1.5zM283.75 604.75h1.5v1.5h-1.5zM288.75 594.75h1.5v1.5h-1.5zM288.75 598.75h1.5v1.5h-1.5zM288.75 602.75h1.5v1.5h-1.5zM288.75 606.75h1.5v1.5h-1.5zM292.75 596.75h1.5v1.5h-1.5zM292.75 600.75h1.5v1.5h-1.5zM292.75 604.75h1.5v1.5h-1.5zM296.75 594.75h1.5v1.5h-1.5zM296.75 598.75h1.5v1.5h-1.5zM296.75 602.75h1.5v1.5h-1.5zM296.75 606.75h1.5v1.5h-1.5zM300.75 596.75h1.5v1.5h-1.5zM300.75 600.75h1.5v1.5h-1.5zM300.75 604.75h1.5v1.5h-1.5zM304.75 594.75h1.5v1.5h-1.5zM304.75 598.75h1.5v1.5h-1.5zM304.75 602.75h1.5v1.5h-1.5zM304.75 606.75h1.5v1.5h-1.5zM308.75 596.75h1.5v1.5h-1.5zM308.75 600.75h1.5v1.5h-1.5zM308.75 604.75h1.5v1.5h-1.5zM312.75 594.75h1.5v1.5h-1.5zM312.75 598.75h1.5v1.5h-1.5zM312.75 602.75h1.5v1.5h-1.5zM312.75 606.75h1.5v1.5h-1.5zM316.75 596.75h1.5v1.5h-1.5zM316.75 600.75h1.5v1.5h-1.5zM316.75 604.75h1.5v1.5h-1.5zM320.75 594.75h1.5v1.5h-1.5zM320.75 598.75h1.5v1.5h-1.5zM320.75 602.75h1.5v1.5h-1.5zM320.75 606.75h1.5v1.5h-1.5zM324.75 596.75h1.5v1.5h-1.5zM324.75 600.75h1.5v1.5h-1.5zM324.75 604.75h1.5v1.5h-1.5zM329.75 594.75h1.5v1.5h-1.5zM329.75 598.75h1.5v1.5h-1.5zM329.75 602.75h1.5v1.5h-1.5zM329.75 606.75h1.5v1.5h-1.5zM333.75 596.75h1.5v1.5h-1.5zM333.75 600.75h1.5v1.5h-1.5zM333.75 604.75h1.5v1.5h-1.5zM337.75 594.75h1.5v1.5h-1.5zM337.75 598.75h1.5v1.5h-1.5zM337.75 602.75h1.5v1.5h-1.5zM337.75 606.75h1.5v1.5h-1.5zM341.75 596.75h1.5v1.5h-1.5zM341.75 600.75h1.5v1.5h-1.5zM341.75 604.75h1.5v1.5h-1.5zM345.75 594.75h1.5v1.5h-1.5zM345.75 598.75h1.5v1.5h-1.5zM345.75 602.75h1.5v1.5h-1.5zM345.75 606.75h1.5v1.5h-1.5zM349.75 596.75h1.5v1.5h-1.5zM349.75 600.75h1.5v1.5h-1.5zM349.75 604.75h1.5v1.5h-1.5zM353.75 594.75h1.5v1.5h-1.5zM353.75 598.75h1.5v1.5h-1.5zM353.75 602.75h1.5v1.5h-1.5zM353.75 606.75h1.5v1.5h-1.5zM357.75 596.75h1.5v1.5h-1.5zM357.75 600.75h1.5v1.5h-1.5zM357.75 604.75h1.5v1.5h-1.5zM361.75 594.75h1.5v1.5h-1.5zM361.75 598.75h1.5v1.5h-1.5zM361.75 602.75h1.5v1.5h-1.5zM361.75 606.75h1.5v1.5h-1.5zM365.75 596.75h1.5v1.5h-1.5zM365.75 600.75h1.5v1.5h-1.5zM365.75 604.75h1.5v1.5h-1.5zM370.75 594.75h1.5v1.5h-1.5zM370.75 598.75h1.5v1.5h-1.5zM370.75 602.75h1.5v1.5h-1.5zM370.75 606.75h1.5v1.5h-1.5zM374.75 596.75h1.5v1.5h-1.5zM374.75 600.75h1.5v1.5h-1.5zM374.75 604.75h1.5v1.5h-1.5zM378.75 594.75h1.5v1.5h-1.5zM378.75 598.75h1.5v1.5h-1.5zM378.75 602.75h1.5v1.5h-1.5zM378.75 606.75h1.5v1.5h-1.5zM382.75 596.75h1.5v1.5h-1.5zM382.75 600.75h1.5v1.5h-1.5zM382.75 604.75h1.5v1.5h-1.5zM386.75 594.75h1.5v1.5h-1.5zM386.75 598.75h1.5v1.5h-1.5zM386.75 602.75h1.5v1.5h-1.5zM386.75 606.75h1.5v1.5h-1.5z" fill="#d4d4d4"/>
<rect x="259.0" y="592.80" width="129.60" height="16.20" fill="none" stroke="#222" stroke-width="1.5"/>
<path d="M326.5 600.70H509.4M326.5 597.50V603.90M509.4 597.50V603.90" stroke="#2a2a2a" stroke-width="1.5" fill="none"/>
<text x="245.1" y="469" text-anchor="end">Never-smokers</text>
<text x="245.1" y="503" text-anchor="end">Ex-smokers</text>
<text x="245.1" y="537" text-anchor="end">Current light smokers</text>
<text x="245.1" y="571" text-anchor="end">Current moderate smokers</text>
<text x="245.1" y="605" text-anchor="end">Current heavy smokers</text>
<text x="0.4" y="12" class="t" style="letter-spacing:0.04px">Aged 20–44 (n = 26,409)</text>
<text x="0.4" y="231" class="t" xml:space="preserve">Aged 40–64  (n = 25,046)</text>
<text x="0.4" y="450" class="t">Aged 65+ (n = 19,727)</text>
<text x="549" y="108"><tspan font-style="italic">P</tspan> for trend = 0.008</text>
<text x="549" y="322"><tspan font-style="italic">P</tspan> for trend = 0.006</text>
<text x="549" y="541"><tspan font-style="italic">P</tspan> for trend = 0.007</text>
<text x="257.4" y="643" text-anchor="middle">0.0</text>
<text x="342.0" y="643" text-anchor="middle">1.0</text>
<text x="426.6" y="643" text-anchor="middle">2.0</text>
<text x="511.6" y="643" text-anchor="middle">3.0</text>
<text x="339.8" y="669">Adjusted OR</text>
</svg>
</body></html>
